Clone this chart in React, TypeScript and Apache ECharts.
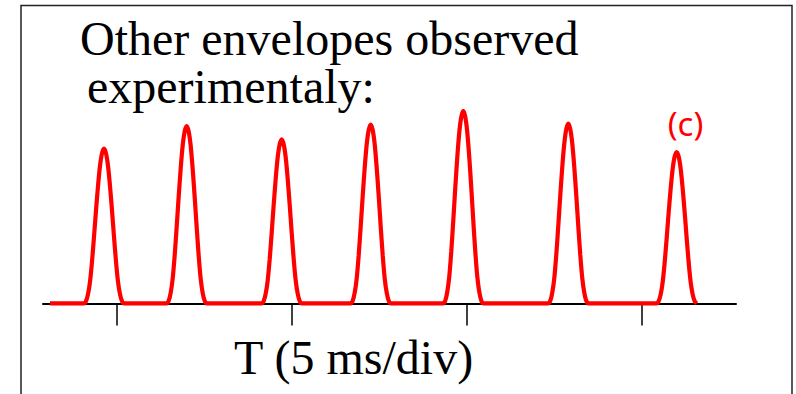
import React, { useEffect, useRef } from "react";
import * as echarts from "echarts";

// Time axis in ms (5 ms per division); tick marks at each division
const tickValuesMs = [0, 5, 10, 15];
const axisMinMs = -2.114;
const axisMaxMs = 17.686;

// Trace start (flat baseline before first pulse)
const traceStartMs = -1.914;

// Pulse envelope centers (ms) and peak amplitudes (a.u.)
const peakTimesMs = [-0.371, 1.991, 4.706, 7.249, 9.894, 12.894, 15.991];
const peakHeights = [0.804, 0.922, 0.853, 0.929, 1.0, 0.934, 0.787];

// Single pulse shape: time offsets (ms) and relative amplitude
const pulseOffsetsMs = [
  -0.571, -0.514, -0.457, -0.4, -0.343, -0.286, -0.229, -0.171, -0.114, -0.057, 0,
  0.057, 0.114, 0.171, 0.229, 0.286, 0.343, 0.4, 0.457, 0.514, 0.571,
];
const pulseProfile = [
  0, 0.015, 0.06, 0.14, 0.27, 0.43, 0.6, 0.76, 0.89, 0.97, 1,
  0.97, 0.89, 0.76, 0.6, 0.43, 0.27, 0.14, 0.06, 0.015, 0,
];

const titleLine1 = "Other envelopes observed";
const titleLine2 = "experimentaly:";
const axisTitle = "T (5 ms/div)";
const panelLabel = "(c)";

export default function App() {
  const ref = useRef<HTMLDivElement>(null);

  useEffect(() => {
    if (!ref.current) return;
    const chart = echarts.init(ref.current, null, { renderer: "svg" });

    const trace: [number, number][] = [[traceStartMs, 0]];
    peakTimesMs.forEach((t, i) => {
      pulseOffsetsMs.forEach((o, j) => {
        trace.push([t + o, peakHeights[i] * pulseProfile[j]]);
      });
    });

    const serif = "'Liberation Serif', 'Times New Roman', serif";

    chart.setOption({
      animation: false,
      backgroundColor: "#ffffff",
      grid: { left: 43, right: 60, top: 111, bottom: 89 },
      xAxis: {
        type: "value",
        min: axisMinMs,
        max: axisMaxMs,
        axisLine: { show: true, lineStyle: { color: "#000", width: 2 } },
        axisTick: {
          show: true,
          customValues: tickValuesMs,
          length: 22,
          lineStyle: { color: "#000", width: 1.5 },
        },
        axisLabel: { show: false },
        splitLine: { show: false },
      },
      yAxis: {
        type: "value",
        min: -0.008,
        max: 1,
        show: false,
        splitLine: { show: false },
      },
      series: [
        {
          type: "line",
          data: trace,
          showSymbol: false,
          symbol: "none",
          smooth: 0.2,
          lineStyle: { color: "#ff0000", width: 4.2 },
          z: 3,
        },
      ],
      graphic: [
        {
          type: "rect",
          shape: { x: 21, y: 5.5, width: 771, height: 420 },
          style: { fill: "none", stroke: "#222", lineWidth: 1.5 },
          silent: true,
        },
        {
          type: "text",
          x: 80,
          y: 38.5,
          style: {
            text: titleLine1,
            font: `48px ${serif}`,
            lineHeight: 48,
            fill: "#000",
            textAlign: "left",
            textVerticalAlign: "middle",
          },
        },
        {
          type: "text",
          x: 87,
          y: 86.5,
          style: {
            text: titleLine2,
            font: `48px ${serif}`,
            lineHeight: 48,
            fill: "#000",
            textAlign: "left",
            textVerticalAlign: "middle",
          },
        },
        {
          type: "text",
          x: 234,
          y: 357,
          style: {
            text: axisTitle,
            font: `48px ${serif}`,
            lineHeight: 48,
            fill: "#000",
            textAlign: "left",
            textVerticalAlign: "middle",
          },
        },
        {
          type: "text",
          x: 685.5,
          y: 123,
          style: {
            text: panelLabel,
            font: `33px 'Noto Sans', Arial, sans-serif`,
            fill: "#ff0000",
            textAlign: "center",
            textVerticalAlign: "middle",
          },
        },
      ],
    });

    return () => chart.dispose();
  }, []);

  return (
    <div
      ref={ref}
      style={{
        position: "fixed",
        left: 0,
        top: 0,
        width: 796,
        height: 394,
        background: "#fff",
      }}
    />
  );
}
